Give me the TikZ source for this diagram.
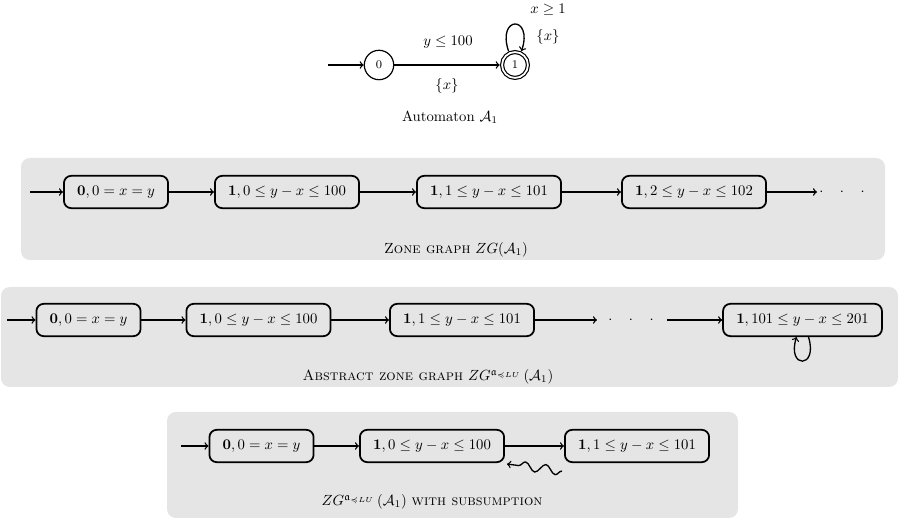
\documentclass[tikz,border=0pt]{standalone}
\usepackage{amsmath}
\usepackage{amssymb}
\usetikzlibrary{calc}
\usetikzlibrary{decorations.pathmorphing}

\definecolor{panelgray}{RGB}{229,229,229}
\tikzset{
  loc/.style={circle, draw, line width=0.8pt, minimum size=20pt, inner sep=0pt, font=\footnotesize},
  accloc/.style={loc, double, double distance=1.2pt, minimum size=17.6pt, outer sep=1.6pt},
  zone/.style={draw, line width=1.2pt, rounded corners=5pt, minimum height=22pt, inner xsep=9pt, inner ysep=0pt},
  panel/.style={fill=panelgray, rounded corners=6pt},
  trans/.style={->, line width=0.9pt},
}
\newcommand{\ZGa}{ZG^{\mathfrak{a}_{\preccurlyeq LU}}}

\begin{document}
\begin{tikzpicture}[x=0.68pt,y=0.68pt,yscale=-1,xscale=1]
\useasboundingbox (0,0) rectangle (900,524);

%Shape: Rectangle [panels]
\fill[panel] (21,158) rectangle (885,260);
\fill[panel] (1,287) rectangle (898,387);
\fill[panel] (167,412) rectangle (738,518);

%Automaton
\coordinate (a0) at (328,65);
\node[loc] (s0) at (379,65) {0};
\node[accloc] (s1) at (515,65) {1};
\draw[trans] (a0) -- (s0);
\draw[trans] (s0) -- (s1);
\draw[trans] (s1.115) .. controls +(-12,-36) and +(12,-36) .. (s1.65);
% Text Node
\node (g01) at (448,42) {$y \leq 100$};
% Text Node
\node (r01) at (447,86) {$\{x\}$};
% Text Node
\node (g11) at (548,10) {$x \geq 1$};
% Text Node
\node (r11) at (548,37) {$\{x\}$};
% Text Node
\node (capA) at (450,117) {Automaton $\mathcal{A}_1$};

%Zone graph
\coordinate (z0) at (30,192);
\node[zone] (z1) at (116,192) {$\mathbf{0}, 0 = x = y$};
\node[zone] (z2) at (287,192) {$\mathbf{1}, 0 \leq y - x \leq 100$};
\node[zone] (z3) at (489,192) {$\mathbf{1}, 1 \leq y - x \leq 101$};
\node[zone] (z4) at (694,192) {$\mathbf{1}, 2 \leq y - x \leq 102$};
\coordinate (z5) at (817,192);
\node (zd) at (842,192) {$\cdot\hspace{9pt}\cdot\hspace{9pt}\cdot$};
\draw[trans] (z0) -- (z1);
\draw[trans] (z1) -- (z2);
\draw[trans] (z2) -- (z3);
\draw[trans] (z3) -- (z4);
\draw[trans] (z4) -- (z5);
% Text Node
\node (capZ) at (456,250) {\textsc{Zone graph} $ZG(\mathcal{A}_1)$};

%Abstract zone graph
\coordinate (b0) at (7,320);
\node[zone] (b1) at (88.5,320) {$\mathbf{0}, 0 = x = y$};
\node[zone] (b2) at (258.5,320) {$\mathbf{1}, 0 \leq y - x \leq 100$};
\node[zone] (b3) at (462,320) {$\mathbf{1}, 1 \leq y - x \leq 101$};
\coordinate (b3e) at (597,320);
\node (bd) at (631,320) {$\cdot\hspace{9pt}\cdot\hspace{9pt}\cdot$};
\coordinate (b4s) at (667,320);
\node[zone] (b4) at (802.5,320) {$\mathbf{1}, 101 \leq y - x \leq 201$};
\draw[trans] (b0) -- (b1);
\draw[trans] (b1) -- (b2);
\draw[trans] (b2) -- (b3);
\draw[trans] (b3) -- (b3e);
\draw[trans] (b4s) -- (b4);
\draw[trans] ($(b4.south)+(6,0)$) .. controls +(10,32) and +(-10,32) .. ($(b4.south)+(-6,0)$);
% Text Node
\node (capB) at (428,377) {\textsc{Abstract zone graph} $\ZGa\,(\mathcal{A}_1)$};

%With subsumption
\coordinate (c0) at (181,446);
\node[zone] (c1) at (261.5,446) {$\mathbf{0}, 0 = x = y$};
\node[zone] (c2) at (432,446) {$\mathbf{1}, 0 \leq y - x \leq 100$};
\node[zone] (c3) at (637,446) {$\mathbf{1}, 1 \leq y - x \leq 101$};
\draw[trans] (c0) -- (c1);
\draw[trans] (c1) -- (c2);
\draw[trans] (c2) -- (c3);
\draw[trans, decorate, decoration={snake, amplitude=3pt, segment length=14pt, post length=3pt}] ($(c3.south west)+(-2,8)$) -- ($(c2.south east)+(2,1)$);
% Text Node
\node (capC) at (432,502) {$\ZGa\,(\mathcal{A}_1)$ \textsc{with subsumption}};

\end{tikzpicture}
\end{document}
